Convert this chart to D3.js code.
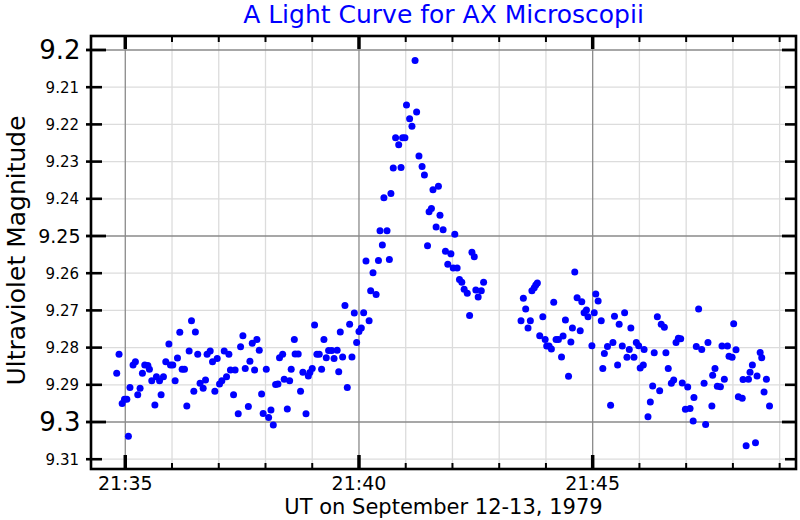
<!DOCTYPE html>
<html>
<head>
<meta charset="utf-8">
<script src="https://cdn.jsdelivr.net/npm/d3@7"></script>
<style>
  html, body { margin: 0; padding: 0; background: #fff; }
  svg { display: block; font-family: "DejaVu Sans", sans-serif; }
</style>
</head>
<body>
<svg id="chart" width="800" height="520"></svg>
<script>
// ---- data (seconds after 21:35:00 UT, and UV magnitude) ----
const seconds = [
  -11,-8,-4,-1,2,4,6,10,13,16,19,22,25,29,31,34,38,40,44,46,
  49,52,56,58,61,64,67,70,73,76,79,82,85,88,90,93,96,100,103,105,
  109,112,115,118,121,124,127,130,133,135,139,141,145,148,151,154,158,160,163,166,
  169,172,175,177,181,184,187,190,193,196,198,202,204,208,211,213,217,218,222,225,
  228,232,235,237,240,243,246,249,252,255,258,261,265,268,272,274,276,279,282,285,
  288,291,294,297,300,303,306,309,313,315,318,322,325,327,330,332,336,339,341,344,
  347,351,354,356,359,361,365,368,372,374,377,381,384,388,390,393,395,399,402,404,
  408,411,414,418,421,423,426,429,432,435,439,442,445,448,450,453,457,460,
  508,511,514,517,520,522,525,527,529,532,536,539,541,544,547,550,553,556,560,562,
  565,569,572,574,577,580,584,586,589,592,594,599,602,604,607,611,613,615,619,623,
  626,628,632,634,638,641,644,647,649,653,656,659,661,665,666,671,674,677,679,683,
  686,688,692,694,697,701,704,707,710,713,715,719,722,725,729,730,733,736,740,743,
  745,748,753,754,757,760,764,766,769,773,775,779,781,784,787,792,793,797,800,802,
  805,809,811,815,817,820,823,827
];
const magnitude = [
  9.2869,9.2818,9.2950,9.2939,9.2939,9.3038,9.2907,9.2847,9.2838,9.2927,9.2909,9.2869,9.2847,9.2848,9.2858,9.2889,9.2954,9.2878,9.2889,9.2927,
  9.2878,9.2838,9.2790,9.2847,9.2847,9.2889,9.2828,9.2759,9.2858,9.2858,9.2957,9.2809,9.2728,9.2917,9.2758,9.2818,9.2896,9.2909,9.2887,9.2818,
  9.2809,9.2838,9.2917,9.2829,9.2898,9.2889,9.2809,9.2878,9.2818,9.2860,9.2927,9.2860,9.2978,9.2798,9.2768,9.2856,9.2958,9.2837,9.2788,9.2860,
  9.2778,9.2807,9.2925,9.2977,9.2858,9.2988,9.2968,9.3008,9.2899,9.2898,9.2827,9.2818,9.2885,9.2965,9.2889,9.2858,9.2778,9.2817,9.2817,9.2917,
  9.2866,9.2978,9.2876,9.2867,9.2856,9.2739,9.2818,9.2818,9.2858,9.2778,9.2827,9.2808,9.2808,9.2829,9.2807,9.2865,9.2758,9.2825,9.2687,9.2907,
  9.2737,9.2825,9.2707,9.2786,9.2757,9.2747,9.2706,9.2567,9.2728,9.2647,9.2599,9.2657,9.2566,9.2486,9.2524,9.2397,9.2486,9.2563,9.2386,9.2317,
  9.2236,9.2255,9.2316,9.2236,9.2236,9.2148,9.2185,9.2205,9.2028,9.2167,9.2285,9.2313,9.2336,9.2526,9.2435,9.2426,9.2376,9.2476,9.2366,9.2444,
  9.2483,9.2541,9.2576,9.2548,9.2586,9.2495,9.2586,9.2617,9.2624,9.2643,9.2654,9.2714,9.2544,9.2556,9.2645,9.2664,9.2647,9.2624,
  9.2728,9.2667,9.2696,9.2747,9.2728,9.2647,9.2639,9.2632,9.2626,9.2768,9.2717,9.2778,9.2796,9.2796,9.2804,9.2678,9.2778,9.2778,9.2825,9.2769,
  9.2726,9.2877,9.2785,9.2747,9.2597,9.2666,9.2755,9.2677,9.2706,9.2699,9.2717,9.2795,9.2706,9.2656,9.2675,9.2728,9.2856,9.2816,9.2797,9.2955,
  9.2786,9.2716,9.2847,9.2737,9.2796,9.2706,9.2826,9.2805,9.2747,9.2826,9.2786,9.2795,9.2855,9.2847,9.2805,9.2986,9.2946,9.2903,9.2814,9.2717,
  9.2916,9.2737,9.2745,9.2814,9.2856,9.2896,9.2887,9.2786,9.2775,9.2776,9.2895,9.2966,9.2906,9.2964,9.2997,9.2934,9.2797,9.2696,9.2805,9.2896,
  9.3007,9.2786,9.2957,9.2874,9.2856,9.2904,9.2905,9.2796,9.2885,9.2796,9.2823,9.2826,9.2736,9.2806,9.2932,9.2936,9.2886,9.3064,9.2885,9.2866,
  9.2847,9.3056,9.2876,9.2813,9.2827,9.2919,9.2885,9.2957
];

// tick definitions
const xMinorTicksMin = [0,1,2,3,4,5,6,7,8,9,10,11,12,13,14];   // minutes after 21:35
const xMajorTicksMin = [0,5,10];
const xTickLabels = ["21:35","21:40","21:45"];
const yMinorTicks = [9.21,9.22,9.23,9.24,9.26,9.27,9.28,9.29,9.31];
const yMinorLabels = ["9.21","9.22","9.23","9.24","9.26","9.27","9.28","9.29","9.31"];
const yMajorTicks = [9.2,9.25,9.3];
const yMajorLabels = ["9.2","9.25","9.3"];

const titleText = "A Light Curve for AX Microscopii";
const xLabelText = "UT on September 12-13, 1979";
const yLabelText = "Ultraviolet Magnitude";

// ---- layout ----
const L = 91, R = 796, T = 36, B = 469;
const t0 = Date.UTC(1979, 8, 12, 21, 35, 0);
const toDate = s => new Date(t0 + s * 1000);

const x = d3.scaleUtc()
  .domain([toDate(-44), toDate(861)])
  .range([L, R]);
const y = d3.scaleLinear()
  .domain([9.19624, 9.31263])
  .range([T, B]);

const svg = d3.select("#chart");

// minor grid
const gMinor = svg.append("g").attr("stroke", "#dcdcdc").attr("stroke-width", 1.3);
xMinorTicksMin.filter(m => !xMajorTicksMin.includes(m)).forEach(m => {
  const px = x(toDate(m * 60));
  gMinor.append("line").attr("x1", px).attr("x2", px).attr("y1", T).attr("y2", B);
});
yMinorTicks.forEach(v => {
  gMinor.append("line").attr("x1", L).attr("x2", R).attr("y1", y(v)).attr("y2", y(v));
});
// major grid
const gMajor = svg.append("g").attr("stroke", "#8a8a8a").attr("stroke-width", 1.3);
xMajorTicksMin.forEach(m => {
  const px = x(toDate(m * 60));
  gMajor.append("line").attr("x1", px).attr("x2", px).attr("y1", T).attr("y2", B);
});
yMajorTicks.forEach(v => {
  gMajor.append("line").attr("x1", L).attr("x2", R).attr("y1", y(v)).attr("y2", y(v));
});

// data points
svg.append("g").attr("fill", "#0000ff")
  .selectAll("circle")
  .data(seconds.map((s, i) => ({ t: toDate(s), m: magnitude[i] })))
  .join("circle")
  .attr("cx", d => x(d.t))
  .attr("cy", d => y(d.m))
  .attr("r", 3.5);

// frame
svg.append("rect")
  .attr("x", L).attr("y", T).attr("width", R - L).attr("height", B - T)
  .attr("fill", "none").attr("stroke", "#000").attr("stroke-width", 2.6);

// ticks
const gt = svg.append("g").attr("stroke", "#000");
xMinorTicksMin.forEach(m => {
  const px = x(toDate(m * 60));
  const major = xMajorTicksMin.includes(m);
  const len = major ? 14 : 6;
  const w = major ? 3.5 : 2;
  gt.append("line").attr("x1", px).attr("x2", px).attr("y1", B).attr("y2", B - len).attr("stroke-width", w);
  gt.append("line").attr("x1", px).attr("x2", px).attr("y1", T).attr("y2", T + (major ? 13 : 6)).attr("stroke-width", w);
});
yMinorTicks.forEach(v => {
  gt.append("line").attr("x1", L - 5).attr("x2", L + 11).attr("y1", y(v)).attr("y2", y(v)).attr("stroke-width", 2.6);
  gt.append("line").attr("x1", R - 11).attr("x2", R).attr("y1", y(v)).attr("y2", y(v)).attr("stroke-width", 2.6);
});
yMajorTicks.forEach(v => {
  gt.append("line").attr("x1", L - 5).attr("x2", L + 15).attr("y1", y(v)).attr("y2", y(v)).attr("stroke-width", 2.8);
  gt.append("line").attr("x1", R - 14).attr("x2", R).attr("y1", y(v)).attr("y2", y(v)).attr("stroke-width", 2.8);
});

// tick labels
svg.append("g").selectAll("text").data(xMajorTicksMin).join("text")
  .attr("x", m => x(toDate(m * 60)))
  .attr("y", 490)
  .attr("text-anchor", "middle")
  .attr("font-size", 19)
  .attr("fill", "#000")
  .text((m, i) => xTickLabels[i]);

svg.append("g").selectAll("text").data(yMinorTicks).join("text")
  .attr("x", 79)
  .attr("y", v => y(v))
  .attr("dy", "0.36em")
  .attr("text-anchor", "end")
  .attr("font-size", 15)
  .text((v, i) => yMinorLabels[i]);

const majorSize = [26, 19, 26];
svg.append("g").selectAll("text").data(yMajorTicks).join("text")
  .attr("x", 80.5)
  .attr("y", v => y(v))
  .attr("dy", "0.36em")
  .attr("text-anchor", "end")
  .attr("font-size", (v, i) => majorSize[i])
  .text((v, i) => yMajorLabels[i]);

// titles
svg.append("text")
  .attr("x", (L + R) / 2).attr("y", 23)
  .attr("text-anchor", "middle")
  .attr("font-size", 25)
  .attr("fill", "#0000ff")
  .text(titleText);

svg.append("text")
  .attr("x", (L + R) / 2).attr("y", 514)
  .attr("text-anchor", "middle")
  .attr("font-size", 21)
  .text(xLabelText);

svg.append("text")
  .attr("transform", `translate(25,${(T + B) / 2 - 2}) rotate(-90)`)
  .attr("text-anchor", "middle")
  .attr("font-size", 25)
  .text(yLabelText);
</script>
</body>
</html>
